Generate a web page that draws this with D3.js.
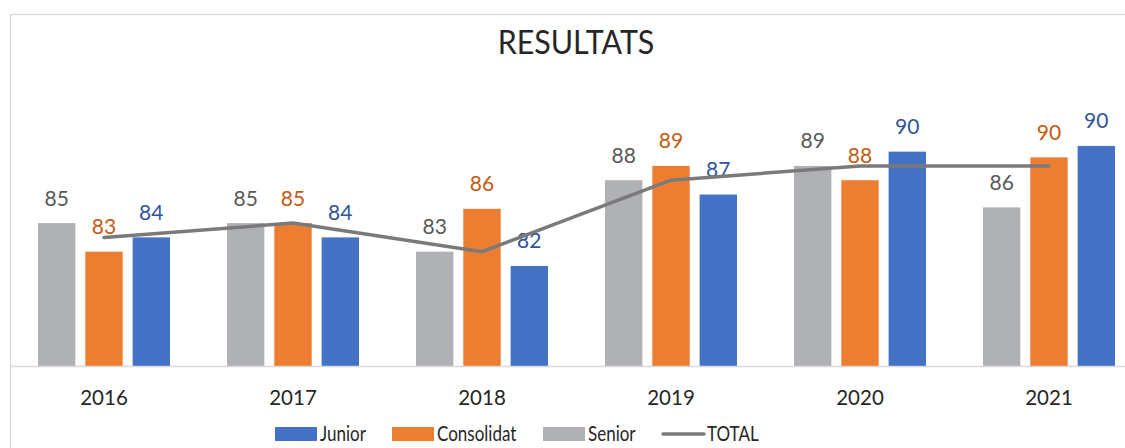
<!DOCTYPE html>
<html>
<head>
<meta charset="utf-8">
<style>
    body { margin: 0; background: #fff; }
    text { font-family: Lato, "Open Sans", sans-serif; }
    .year { font-size: 20.5px; fill: #262626; text-anchor: middle; }
    .val { font-size: 21px; text-anchor: middle; }
    .legend text { font-size: 20.5px; fill: #262626; }
</style>
</head>
<body>
<svg id="chart" width="1125" height="448"></svg>
<script src="https://d3js.org/d3.v7.min.js"></script>
<script>
    // values
    var years = ["2016", "2017", "2018", "2019", "2020", "2021"];
    var senior = [85, 85, 83, 88, 89, 86.1];
    var consolidat = [83, 85, 86, 89, 88, 89.6];
    var junior = [84, 84, 82, 87, 90, 90.4];
    var total = [84, 85, 83, 88, 89, 89];
    var yDomain = [75, 95];

    var series = [
        {key: "Senior", values: senior, fill: "#b0b1b4", label: "#595959"},
        {key: "Consolidat", values: consolidat, fill: "#ed7d31", label: "#c55a11"},
        {key: "Junior", values: junior, fill: "#4472c4", label: "#2f5597"}
    ];
    var legendOrder = ["Junior", "Consolidat", "Senior", "TOTAL"];
    var legendX = [275, 392, 543, 662];

    var svg = d3.select("#chart");

    // chart frame (right / bottom edges fall outside the picture)
    svg.append("rect")
        .attr("x", 10.5).attr("y", 14.5)
        .attr("width", 1140).attr("height", 460)
        .attr("fill", "#fff")
        .attr("stroke", "#d9d9d9").attr("stroke-width", 1.3);

    var baseY = 366;
    var x0 = d3.scaleBand().domain(years).range([9.5, 1143.5]).paddingInner(0.249).paddingOuter(0.1245);
    var x1 = d3.scaleBand().domain(series.map(function (s) { return s.key; }))
        .range([0, x0.bandwidth()]).paddingInner(0.21).paddingOuter(0.105);
    var y = d3.scaleLinear().domain(yDomain).range([baseY, baseY - 20 * 14.29]);

    svg.append("text")
        .attr("transform", "translate(576,54) scale(0.95,1.05)")
        .attr("text-anchor", "middle")
        .style("font-size", "32px").style("fill", "#262626")
        .text("RESULTATS");

    var groups = svg.selectAll("g.grp")
        .data(years)
        .enter().append("g")
        .attr("class", "grp")
        .attr("transform", function (d) { return "translate(" + x0(d) + ",0)"; });

    series.forEach(function (s) {
        groups.append("rect")
            .attr("x", x1(s.key))
            .attr("width", x1.bandwidth())
            .attr("y", function (d, i) { return y(s.values[i]); })
            .attr("height", function (d, i) { return baseY - y(s.values[i]); })
            .attr("fill", s.fill);
    });

    // x axis line and year labels
    svg.append("line")
        .attr("x1", 10).attr("x2", 1125)
        .attr("y1", baseY + 0.5).attr("y2", baseY + 0.5)
        .attr("stroke", "#d9d9d9").attr("stroke-width", 1.3);

    svg.selectAll("text.year")
        .data(years)
        .enter().append("text")
        .attr("class", "year")
        .attr("x", function (d) { return x0(d) + x0.bandwidth() / 2; })
        .attr("y", 405)
        .text(function (d) { return d; });

    // total line
    var line = d3.line()
        .x(function (d, i) { return x0(years[i]) + x0.bandwidth() / 2; })
        .y(function (d) { return y(d); });

    svg.append("path")
        .datum(total)
        .attr("d", line)
        .attr("fill", "none")
        .attr("stroke", "#7a7a7a")
        .attr("stroke-width", 3.5)
        .attr("stroke-linecap", "round")
        .attr("stroke-linejoin", "round");

    // value labels above the bars
    series.forEach(function (s) {
        groups.append("text")
            .attr("class", "val")
            .attr("x", x1(s.key) + x1.bandwidth() / 2)
            .attr("y", function (d, i) { return y(s.values[i]) - 17.5; })
            .style("fill", s.label)
            .text(function (d, i) { return Math.round(s.values[i]); });
    });

    // legend (text squeezed a little to mimic the narrow original face)
    var legend = svg.append("g").attr("class", "legend");
    var ly = 441;
    legendOrder.forEach(function (k, j) {
        var lx = legendX[j];
        var s = series.find(function (d) { return d.key === k; });
        if (s) {
            legend.append("rect")
                .attr("x", lx).attr("y", ly - 14)
                .attr("width", 42).attr("height", 14)
                .attr("fill", s.fill);
        } else {
            legend.append("line")
                .attr("x1", lx + 1).attr("x2", lx + 42)
                .attr("y1", ly - 7).attr("y2", ly - 7)
                .attr("stroke", "#7a7a7a").attr("stroke-width", 3.5)
                .attr("stroke-linecap", "round");
        }
        legend.append("text")
            .attr("transform", "translate(" + (lx + 45) + "," + ly + ") scale(0.83,1)")
            .text(k);
    });
</script>
</body>
</html>
